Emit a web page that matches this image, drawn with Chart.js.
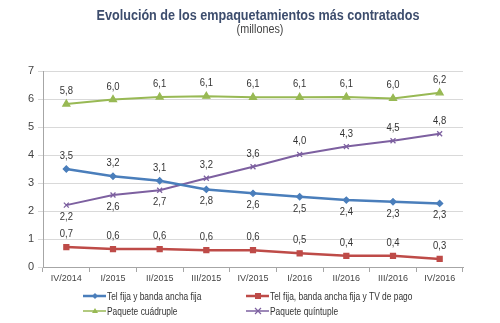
<!DOCTYPE html>
<html>
<head>
<meta charset="utf-8">
<script src="https://cdn.jsdelivr.net/npm/chart.js@4/dist/chart.umd.min.js"></script>
<style>
html,body{margin:0;padding:0;background:#fff;}
#wrap{width:500px;height:323px;position:relative;}
</style>
</head>
<body>
<div id="wrap"><canvas id="c" width="500" height="323"></canvas></div>
<script>
// data
const categories=['IV/2014','I/2015','II/2015','III/2015','IV/2015','I/2016','II/2016','III/2016','IV/2016'];
const telBanda=[3.5,3.24,3.08,2.77,2.63,2.51,2.39,2.33,2.27];
const telBandaTv=[0.71,0.64,0.64,0.6,0.6,0.49,0.4,0.4,0.29];
const cuadruple=[5.82,5.98,6.07,6.1,6.06,6.06,6.07,6.02,6.22];
const quintuple=[2.21,2.57,2.74,3.17,3.58,4.02,4.3,4.51,4.76];
const yTicks=[0,1,2,3,4,5,6,7];

const TITLE='Evolución de los empaquetamientos más contratados';
const SUBTITLE='(millones)';
const FONT='"Liberation Sans", Arial, sans-serif';

const fmt=v=>v.toFixed(1).replace('.',',');

// blue/purple cross: the higher one gets label above
const below=(ch,di,i)=>{
  if(di!==0&&di!==3)return false;
  const other=di===0?3:0;
  return ch.data.datasets[di].data[i]<ch.data.datasets[other].data[i];
};

// text squeezed horizontally like the source picture
const sqText=(ctx,txt,x,y,sx)=>{
  ctx.save();
  ctx.translate(x,y);
  ctx.scale(sx,1);
  ctx.fillText(txt,0,0);
  ctx.restore();
};

const extras={
  id:'extras',
  afterDatasetsDraw(ch){
    const ctx=ch.ctx;
    ctx.save();
    ctx.font='11px '+FONT;
    ctx.fillStyle='#333';
    ctx.textAlign='center';
    ctx.textBaseline='middle';
    ch.data.datasets.forEach((ds,di)=>{
      const meta=ch.getDatasetMeta(di);
      meta.data.forEach((pt,i)=>{
        const dy=below(ch,di,i)?12:-13;
        sqText(ctx,fmt(ds.data[i]),pt.x,pt.y+dy,0.86);
      });
    });
    ctx.restore();
  },
  afterDraw(ch){
    const ctx=ch.ctx;
    ctx.save();
    ctx.textAlign='center';
    ctx.textBaseline='middle';
    ctx.fillStyle='#3d4d6d';
    ctx.font='bold 14px '+FONT;
    sqText(ctx,TITLE,258,16,0.9);
    ctx.fillStyle='#444';
    ctx.font='12px '+FONT;
    sqText(ctx,SUBTITLE,260,30,0.9);
    // legend 2x2
    const items=[
      {ds:0,x:83,y:296},{ds:1,x:246,y:296},
      {ds:2,x:83,y:311},{ds:3,x:246,y:311}
    ];
    ctx.textAlign='left';
    ctx.font='10.5px '+FONT;
    items.forEach(it=>{
      const ds=ch.data.datasets[it.ds];
      ctx.strokeStyle=ds.borderColor;
      ctx.lineWidth=it.ds<2?2.5:1.5;
      ctx.beginPath();ctx.moveTo(it.x,it.y);ctx.lineTo(it.x+23,it.y);ctx.stroke();
      const cx=it.x+12;
      ctx.fillStyle=ds.borderColor;
      ctx.lineWidth=1.2;
      if(ds.pointStyle==='rect')ctx.fillRect(cx-3,it.y-3,6,6);
      else if(ds.pointStyle==='rectRot'){ctx.beginPath();ctx.moveTo(cx,it.y-3);ctx.lineTo(cx+3,it.y);ctx.lineTo(cx,it.y+3);ctx.lineTo(cx-3,it.y);ctx.closePath();ctx.fill();}
      else if(ds.pointStyle==='triangle'){ctx.beginPath();ctx.moveTo(cx,it.y-3);ctx.lineTo(cx+3,it.y+2);ctx.lineTo(cx-3,it.y+2);ctx.closePath();ctx.fill();}
      else {ctx.beginPath();ctx.moveTo(cx-3,it.y-3);ctx.lineTo(cx+3,it.y+3);ctx.moveTo(cx+3,it.y-3);ctx.lineTo(cx-3,it.y+3);ctx.stroke();}
      ctx.fillStyle='#333';
      sqText(ctx,ds.label,it.x+24,it.y+1,0.8);
    });
    ctx.restore();
  }
};

const mk=(label,data,color,style,w,r)=>({
  label,data,borderColor:color,backgroundColor:color,borderWidth:w,
  pointStyle:style,pointRadius:r,pointBorderColor:color,pointBackgroundColor:color,
  pointBorderWidth:1.3,tension:0,fill:false
});

new Chart(document.getElementById('c'),{
  type:'line',
  data:{labels:categories,datasets:[
    mk('Tel fija y banda ancha fija',telBanda,'#4a7ebb','rectRot',2.5,3),
    mk('Tel fija, banda ancha fija y TV de pago',telBandaTv,'#be4b48','rect',2.5,3.5),
    mk('Paquete cuádruple',cuadruple,'#98b954','triangle',2,4),
    mk('Paquete quíntuple',quintuple,'#7d60a0','crossRot',2,3.5)
  ]},
  options:{
    responsive:false,animation:false,
    layout:{padding:{top:71,right:37,bottom:36,left:0}},
    plugins:{legend:{display:false},tooltip:{enabled:false},title:{display:false}},
    scales:{
      x:{
        offset:true,
        afterFit:s=>{s.height=20;},
        grid:{offset:true,drawOnChartArea:false,drawTicks:true,tickLength:5,color:'#a6a6a6'},
        border:{color:'#a6a6a6'},
        ticks:{color:'#444',font:{size:9,family:'"Liberation Sans Narrow", '+FONT},maxRotation:0,autoSkip:false,padding:1}
      },
      y:{
        min:0,max:7,
        afterFit:s=>{s.width=43;},
        afterBuildTicks:s=>{s.ticks=yTicks.map(v=>({value:v}));},
        grid:{color:'#d9d9d9',drawTicks:true,tickLength:5},
        border:{color:'#a6a6a6'},
        ticks:{color:'#444',font:{size:11,family:FONT},padding:4}
      }
    }
  },
  plugins:[extras]
});
</script>
</body>
</html>
